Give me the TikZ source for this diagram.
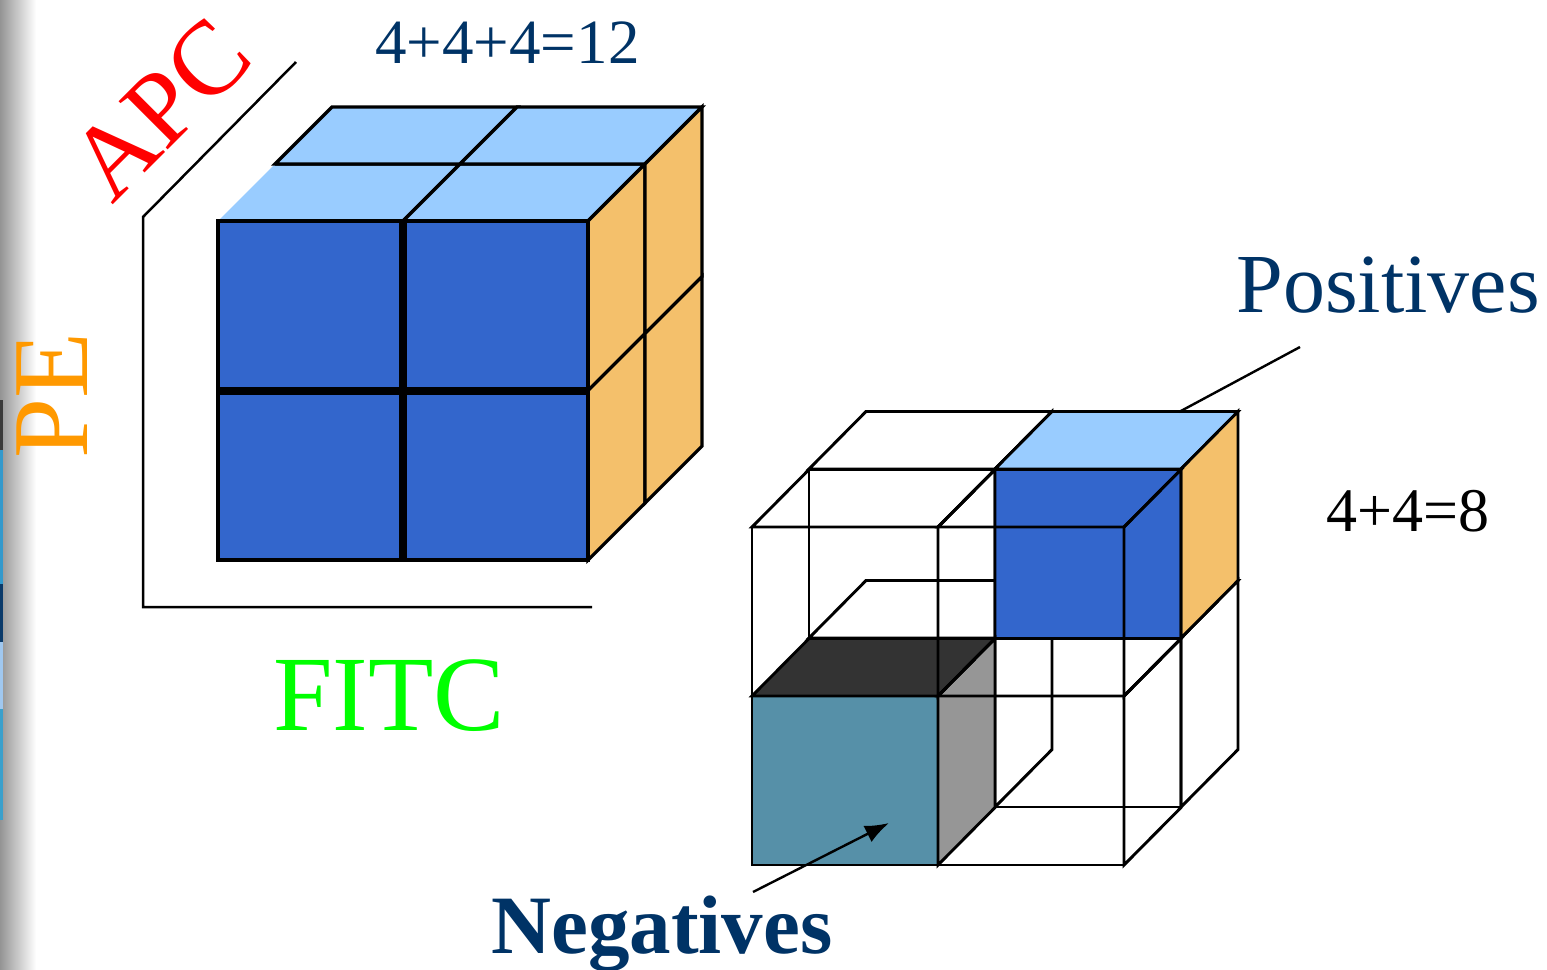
\documentclass[tikz,border=0pt]{standalone}
\usepackage{fontspec}
\setmainfont{Liberation Serif}
\usetikzlibrary{arrows.meta}
\definecolor{faceblue}{HTML}{3366CC}
\definecolor{topblue}{HTML}{99CCFF}
\definecolor{sideorange}{HTML}{F4C06B}
\definecolor{negteal}{HTML}{5690A8}
\definecolor{negtop}{HTML}{333333}
\definecolor{negside}{HTML}{969696}
\definecolor{navytext}{HTML}{003366}
\definecolor{petext}{HTML}{FF9900}
\definecolor{apctext}{HTML}{FF0000}
\definecolor{fitctext}{HTML}{00FF00}
\definecolor{edgeA}{HTML}{3A3A3A}
\definecolor{edgeB}{HTML}{3399CC}
\definecolor{edgeC}{HTML}{0A3A6A}
\definecolor{edgeD}{HTML}{A0C8F0}
\definecolor{edgeE}{HTML}{3AA0CC}
\newcommand{\pcube}[5]{%
  \draw[wire, fill=#3] (#1,#2) rectangle ++(186,169);
  \draw[wire, fill=#4] (#1,#2) -- ++(57,-57.5) -- ++(186,0) -- ++(-57,57.5) -- cycle;
  \draw[wire, fill=#5] (#1+186,#2) -- ++(57,-57.5) -- ++(0,169) -- ++(-57,57.5) -- cycle;
}
\begin{document}
\begin{tikzpicture}[x=0.5pt,y=-0.5pt,
  wire/.style={draw=black, line width=1.45pt, line join=miter},
  bigline/.style={draw=black, line width=1.6pt, line join=miter},
  axis/.style={draw=black, line width=1.25pt},
  lbl/.style={inner sep=0pt, anchor=base west}]
\useasboundingbox (0,0) rectangle (1547,969);
\fill[white] (0,0) rectangle (1547,969);
\shade[left color=black!42, right color=white] (0,0) rectangle (36,969);
% slivers at the left edge
\fill[edgeA] (0,400) rectangle (3,450);
\fill[edgeB] (0,450) rectangle (3,584);
\fill[edgeC] (0,584) rectangle (3,642);
\fill[edgeD] (0,642) rectangle (3,709);
\fill[edgeE] (0,709) rectangle (3,820);

% ---------- axes of the left cube ----------
\draw[axis] (296,62) -- (143,217) -- (143,607) -- (592,607);

% ---------- left cube: top face ----------
\fill[topblue] (218,221) -- (403,221) -- (460,164) -- (275,164) -- cycle;
\draw[bigline] (218,221) -- (403,221) -- (460,164) -- (275,164);
\draw[bigline, fill=topblue] (403,221) -- (588,221) -- (645,164) -- (460,164) -- cycle;
\draw[bigline, fill=topblue] (275,164) -- (460,164) -- (517,107) -- (332,107) -- cycle;
\draw[bigline, fill=topblue] (460,164) -- (645,164) -- (702,107) -- (517,107) -- cycle;
% side face
\draw[bigline, fill=sideorange] (588,221) -- (645,164) -- (645,333.5) -- (588,390.5) -- cycle;
\draw[bigline, fill=sideorange] (645,164) -- (702,107) -- (702,276.5) -- (645,333.5) -- cycle;
\draw[bigline, fill=sideorange] (588,390.5) -- (645,333.5) -- (645,503) -- (588,560) -- cycle;
\draw[bigline, fill=sideorange] (645,333.5) -- (702,276.5) -- (702,446) -- (645,503) -- cycle;
% front face
\draw[bigline, fill=faceblue] (218,221) rectangle (401,389);
\draw[bigline, fill=faceblue] (405,221) rectangle (588,389);
\draw[bigline, fill=faceblue] (218,393) rectangle (401,560);
\draw[bigline, fill=faceblue] (405,393) rectangle (588,560);

% ---------- right cube (2x2x2 cells) ----------
% back layer
\pcube{809}{638}{none}{none}{none}
\pcube{995}{638}{none}{none}{none}
\pcube{809}{469}{none}{none}{none}
\pcube{995}{469}{faceblue}{topblue}{sideorange}
% front layer
\pcube{752}{696}{negteal}{negtop}{negside}
\pcube{938}{696}{none}{none}{none}
\pcube{752}{527}{none}{none}{none}
\pcube{938}{527}{none}{none}{none}

% ---------- labels ----------
\node[lbl, text=navytext, font=\fontsize{31.5}{36}\selectfont] (sum12) at (375,63) {4+4+4=12};
\node[lbl, text=black, font=\fontsize{31}{36}\selectfont] (sum8) at (1326,531) {4+4=8};
\node[lbl, text=navytext, font=\fontsize{42}{48}\selectfont] (pos) at (1236,312) {Positives};
\node[lbl, text=navytext, font=\fontsize{41.5}{48}\selectfont\bfseries] (neg) at (491,953) {Negatives};
\node[lbl, text=fitctext, font=\fontsize{53.5}{60}\selectfont] (fitc) at (273,730) {FITC};
\node[lbl, text=petext, font=\fontsize{54}{60}\selectfont, rotate=90] (pe) at (87,459) {PE};
\node[lbl, text=apctext, font=\fontsize{52.5}{60}\selectfont, rotate=45] (apc) at (112,206) {APC};

% ---------- pointers ----------
\coordinate (posA) at (1300,347);
\coordinate (posB) at (1179,412);
\draw[line width=1.2pt] (posA) -- (posB);
\coordinate (negA) at (753,892);
\coordinate (negB) at (889,823);
\draw[line width=1.2pt, -{Latex[length=12pt,width=9pt]}] (negA) -- (negB);
\end{tikzpicture}
\end{document}
